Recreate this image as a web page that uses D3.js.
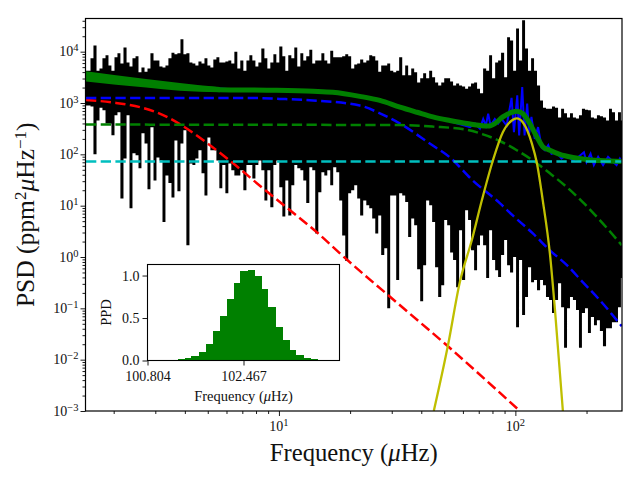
<!DOCTYPE html>
<html>
<head>
<meta charset="utf-8">
<script src="https://cdn.jsdelivr.net/npm/d3@7"></script>
<style>
html, body { margin: 0; padding: 0; background: #fff; }
text { font-family: "Liberation Serif", serif; fill: #111; }
</style>
</head>
<body>
<div id="chart"></div>
<script>
// all spectrum values are log10 of frequency (uHz) and log10 of PSD
var specFreq = [0.184,0.197,0.209,0.222,0.235,0.247,0.260,0.273,0.285,0.298,
0.311,0.323,0.336,0.349,0.362,0.374,0.387,0.400,0.412,0.425,
0.438,0.450,0.463,0.476,0.488,0.501,0.514,0.526,0.539,0.552,
0.564,0.577,0.590,0.602,0.615,0.628,0.640,0.653,0.666,0.679,
0.691,0.704,0.716,0.729,0.742,0.754,0.767,0.780,0.792,0.805,
0.818,0.830,0.843,0.856,0.869,0.881,0.894,0.907,0.919,0.932,
0.945,0.957,0.970,0.983,0.995,1.008,1.021,1.033,1.046,1.059,
1.071,1.084,1.097,1.109,1.122,1.135,1.147,1.160,1.173,1.186,
1.198,1.211,1.223,1.236,1.249,1.261,1.274,1.287,1.299,1.312,
1.325,1.337,1.350,1.363,1.376,1.388,1.401,1.414,1.426,1.439,
1.452,1.464,1.477,1.490,1.502,1.515,1.528,1.540,1.553,1.566,
1.578,1.591,1.604,1.616,1.629,1.642,1.654,1.667,1.680,1.693,
1.705,1.718,1.730,1.743,1.756,1.768,1.781,1.794,1.806,1.819,
1.832,1.844,1.857,1.870,1.883,1.895,1.908,1.921,1.933,1.946,
1.959,1.971,1.984,1.997,2.009,2.022,2.035,2.047,2.060,2.073,
2.085,2.098,2.111,2.123,2.136,2.149,2.161,2.174,2.187,2.200,
2.212,2.225,2.237,2.250,2.263,2.275,2.288,2.301,2.313,2.326,
2.339,2.351,2.364,2.377,2.390,2.402,2.415,2.428,2.440,2.453];

var specTop = [3.63,3.63,3.87,4.12,3.63,3.67,3.87,3.93,3.73,3.63,
3.89,3.97,3.77,4.08,3.79,3.71,3.87,3.91,3.60,3.69,
3.61,3.67,3.97,3.83,3.83,3.71,3.69,3.73,3.87,3.98,
3.95,3.97,4.24,3.95,3.97,3.79,3.77,3.73,3.81,3.77,
3.87,3.73,3.69,3.85,3.89,3.79,3.79,3.81,3.83,3.77,
4.00,3.67,3.83,3.63,3.83,3.93,3.83,3.71,3.79,4.06,
3.87,3.67,3.79,3.95,3.79,4.10,3.91,3.63,3.93,3.87,
4.08,3.71,3.97,3.83,3.91,4.04,3.77,3.83,3.83,3.97,
3.83,3.77,4.02,3.89,3.89,3.89,3.91,3.95,3.91,3.67,
3.75,3.77,3.85,3.79,3.83,3.93,3.91,3.83,3.61,3.73,
3.73,3.77,3.63,3.60,3.63,3.89,3.54,3.73,3.54,3.67,
3.60,3.40,3.48,3.58,3.48,3.63,3.50,3.40,3.34,3.40,
3.48,3.48,3.42,3.34,3.38,3.34,3.32,3.28,3.32,3.38,
3.40,3.28,3.19,3.67,3.63,3.93,3.48,3.79,3.83,3.98,
3.50,4.28,4.22,3.63,4.45,3.83,4.61,4.06,3.63,3.87,
3.63,3.34,3.05,2.91,2.89,2.89,2.93,2.91,2.72,2.89,
2.80,2.72,2.80,2.72,2.70,2.76,2.89,2.87,2.86,2.72,
2.70,2.76,2.74,2.72,2.66,2.89,2.82,2.66,2.82,2.66];

var specBottom = [2.95,2.95,2.93,2.00,2.66,2.91,2.86,2.60,2.60,2.37,
2.76,2.82,1.14,1.92,2.76,0.95,2.02,1.98,1.73,2.41,
2.21,1.32,2.53,1.49,1.94,1.88,0.68,1.59,1.44,1.16,
2.27,1.28,2.21,2.47,0.23,1.82,1.79,1.92,2.08,1.63,
1.20,2.33,2.08,2.08,1.88,1.34,1.79,1.24,1.82,1.69,
1.59,1.59,1.69,1.30,1.79,1.79,1.53,1.79,1.88,1.69,
1.10,1.69,0.97,1.79,1.88,1.36,0.79,1.49,0.81,1.40,
1.79,1.73,1.69,1.49,1.05,1.75,1.69,0.46,1.26,1.65,
1.59,1.69,1.40,1.75,1.65,1.10,0.42,-0.08,1.24,1.30,
1.40,1.14,0.81,1.10,1.01,0.95,0.75,0.46,0.81,0.04,
0.17,-1.00,1.20,1.20,-0.45,1.24,1.20,1.07,0.39,0.75,
0.62,-0.24,-0.86,-0.16,1.10,1.01,0.68,-0.20,-0.78,-0.55,
0.72,0.62,0.09,-0.06,-0.59,0.52,-0.45,0.91,0.72,0.13,
-0.26,0.23,0.42,0.23,-0.41,0.52,-0.06,-0.26,-0.39,0.04,
0.33,-0.16,-0.30,0.00,-1.37,-0.06,-1.13,-0.78,-0.20,-0.49,
-0.45,-0.65,-0.45,-0.55,-0.78,-0.84,-1.09,-0.84,-0.51,-0.98,
-1.77,-1.00,-0.78,-0.84,-1.03,-1.77,-1.09,-1.00,-1.48,-1.17,
-1.33,-1.23,-1.44,-1.74,-1.39,-1.39,-1.27,-1.27,-0.98,-0.41];

// smoothed spectrum
var smoothFreq = [0.184,0.400,0.800,1.000,1.100,1.200,1.350,1.500,1.650,1.808,1.829,1.850,1.864,1.875,1.885,1.895,1.913,1.927,1.942,1.963,1.984,1.994,2.008,2.016,2.029,2.039,2.050,2.058,2.068,2.082,2.096,2.111,2.125,2.139,2.153,2.174,2.195,2.216,2.244,2.266,2.290,2.301,2.318,2.332,2.350,2.371,2.392,2.414,2.428,2.442,2.452];
var smoothPower = [3.50,3.38,3.27,3.25,3.25,3.21,3.13,2.94,2.74,2.53,2.60,2.50,2.69,2.56,2.79,2.56,2.69,2.60,2.69,2.56,3.10,2.43,3.15,2.37,3.31,2.37,2.99,2.40,2.73,2.30,2.53,2.14,2.08,2.18,2.01,2.04,1.92,1.98,1.88,1.95,2.04,1.85,2.01,1.79,1.95,1.79,1.95,1.85,1.79,1.92,1.85];

// model curves
var totalFreq = [0.184,0.438,0.581,0.750,0.949,1.144,1.228,1.342,1.427,1.512,1.584,1.651,1.723,1.795,1.884,1.913,1.947,1.985,2.006,2.032,2.061,2.091,2.116,2.146,2.188,2.243,2.302,2.357,2.450];
var totalPower = [3.52,3.39,3.32,3.26,3.25,3.23,3.21,3.13,3.05,2.92,2.82,2.73,2.66,2.60,2.55,2.60,2.73,2.82,2.84,2.79,2.60,2.34,2.15,2.08,2.00,1.94,1.90,1.88,1.86];
var bandFreq = [0.184,0.438,0.581,0.750];
var bandHigh = [3.62,3.47,3.39,3.31];
var bandLow = [3.42,3.30,3.24,3.21];

var redFreq = [0.184,0.298,0.412,0.526,0.594,0.696,0.805,0.932,1.047,1.161,1.258,1.512,1.710,2.019];
var redPower = [3.06,3.01,2.92,2.73,2.55,2.22,1.83,1.34,0.91,0.48,0.07,-0.94,-1.72,-3.00];

var blueFreq = [0.184,0.865,1.004,1.144,1.342,1.427,1.512,1.638,1.723,1.820,1.934,1.989,2.074,2.146,2.218,2.285,2.357,2.450];
var bluePower = [3.10,3.10,3.08,3.05,2.95,2.80,2.60,2.21,1.94,1.49,1.05,0.81,0.46,0.13,-0.16,-0.49,-0.84,-1.35];

var darkFreq = [0.184,1.512,1.651,1.795,1.863,1.934,2.006,2.074,2.146,2.218,2.285,2.357,2.450];
var darkPower = [2.58,2.57,2.54,2.48,2.39,2.26,2.08,1.88,1.63,1.36,1.07,0.72,0.23];

var cyanFreq = [0.184,2.450];
var cyanPower = [1.86,1.86];

var yellowFreq = [1.655,1.715,1.765,1.816,1.858,1.905,1.947,1.985,2.006,2.032,2.070,2.091,2.116,2.146,2.167,2.201];
var yellowPower = [-3.00,-1.72,-0.49,0.33,1.10,1.88,2.43,2.66,2.70,2.62,2.21,1.83,1.10,0.07,-1.00,-3.00];

// inset histogram
var histEdges = [101.324,101.445,101.566,101.688,101.809,101.930,102.052,102.173,102.294,102.415,102.537,102.658,102.779,102.900,103.022,103.143,103.264,103.385,103.507,103.628,103.749];
var histValues = [0.012,0.03,0.05,0.10,0.20,0.345,0.52,0.72,0.91,1.05,1.07,1.00,0.84,0.63,0.39,0.24,0.12,0.06,0.03,0.015];
var histTicksX = [100.804,102.467];
var histTicksY = [0,0.5,1];

var yTickExp = [-3,-2,-1,0,1,2,3,4];
var xTickVals = [10,100];
var xMinor = [2,3,4,5,6,7,8,9,20,30,40,50,60,70,80,90,200];

var margin = { left: 85.5, right: 18, top: 18.5, bottom: 69 };
var width = 640 - margin.left - margin.right,
    height = 480 - margin.top - margin.bottom;

var svg = d3.select("#chart").append("svg")
    .attr("width", 640)
    .attr("height", 480)
    .style("display", "block");

var x = d3.scaleLog().domain([1.52, 282.5]).range([0, width]);
var y = d3.scaleLog().domain([0.001, 4.43e4]).range([height, 0]);

var g = svg.append("g")
    .attr("transform", "translate(" + margin.left + "," + margin.top + ")");

g.append("clipPath").attr("id", "plot")
    .append("rect").attr("width", width).attr("height", height);

var plot = g.append("g").attr("clip-path", "url(#plot)");

function px(v) { return x(Math.pow(10, v)); }
function py(v) { return y(Math.pow(10, v)); }

// black spectrum between its upper and lower edge
var spec = d3.area()
    .x(function(d, i) { return px(specFreq[i]); })
    .y0(function(d, i) { return py(specBottom[i]); })
    .y1(function(d, i) { return py(specTop[i]); })
    .curve(d3.curveStep);

plot.append("path")
    .attr("d", spec(specFreq))
    .attr("fill", "#000");

function curve(freq, power, color, lw, dashed, shape) {
    var line = d3.line()
        .x(function(d, i) { return px(freq[i]); })
        .y(function(d, i) { return py(power[i]); })
        .curve(shape || d3.curveMonotoneX);
    plot.append("path")
        .attr("d", line(freq))
        .attr("fill", "none")
        .attr("stroke", color)
        .attr("stroke-width", lw)
        .attr("stroke-dasharray", dashed ? "10.3,4.4" : null);
}

curve(smoothFreq, smoothPower, "#0000ff", 2, false, d3.curveLinear);

var band = d3.area()
    .x(function(d, i) { return px(bandFreq[i]); })
    .y0(function(d, i) { return py(bandLow[i]); })
    .y1(function(d, i) { return py(bandHigh[i]); })
    .curve(d3.curveMonotoneX);

plot.append("path")
    .attr("d", band(bandFreq))
    .attr("fill", "#008000");

curve(totalFreq, totalPower, "#008000", 5, false);
curve(redFreq, redPower, "#ff0000", 2.5, true);
curve(blueFreq, bluePower, "#0000ff", 2.5, true);
curve(darkFreq, darkPower, "#008000", 2.5, true);
curve(cyanFreq, cyanPower, "#00bfbf", 2.5, true);
curve(yellowFreq, yellowPower, "#bfbf00", 2.3, false);

// axes
g.append("rect")
    .attr("width", width).attr("height", height)
    .attr("fill", "none").attr("stroke", "#000").attr("stroke-width", 1.2);

var xMajor = d3.axisBottom(x).tickValues(xTickVals).tickSize(5).tickFormat("");
var xSmall = d3.axisBottom(x).tickValues(xMinor).tickSize(3).tickFormat("");
var yMajor = d3.axisLeft(y).tickValues(yTickExp.map(function(e) { return Math.pow(10, e); })).tickSize(5).tickFormat("");
var yValues = [];
yTickExp.forEach(function(e) {
    [2,3,4,5,6,7,8,9].forEach(function(m) {
        if (m * Math.pow(10, e) < 4.43e4) yValues.push(m * Math.pow(10, e));
    });
});
var ySmall = d3.axisLeft(y).tickValues(yValues).tickSize(3).tickFormat("");

[[xMajor, true], [xSmall, true], [yMajor, false], [ySmall, false]].forEach(function(a) {
    var ax = g.append("g").call(a[0]);
    if (a[1]) ax.attr("transform", "translate(0," + height + ")");
    ax.select(".domain").remove();
    ax.selectAll("line").attr("stroke", "#000").attr("stroke-width", 0.9);
});

function powerLabel(parent, exp, xp, yp, anchor, size) {
    var t = parent.append("text")
        .attr("x", xp).attr("y", yp)
        .attr("text-anchor", anchor)
        .style("font-size", size + "px");
    t.append("tspan").text("10");
    t.append("tspan").attr("dy", -5).style("font-size", (size - 3.5) + "px").text(exp);
}

yTickExp.forEach(function(e) {
    powerLabel(g, String(e).replace("-", "\u2212"), -7, y(Math.pow(10, e)) + 4.5, "end", 14);
});
xTickVals.forEach(function(v) {
    powerLabel(g, Math.round(Math.log10(v)), x(v), height + 20, "middle", 14);
});

var xLabel = g.append("text")
    .attr("x", width / 2).attr("y", height + 50)
    .attr("text-anchor", "middle")
    .style("font-size", "24.7px");
xLabel.append("tspan").text("Frequency (");
xLabel.append("tspan").style("font-style", "italic").text("\u03bc");
xLabel.append("tspan").text("Hz)");

var yLabel = g.append("text")
    .attr("transform", "translate(-52," + (height / 2) + ") rotate(-90)")
    .attr("text-anchor", "middle")
    .style("font-size", "25.5px");
yLabel.append("tspan").text("PSD (ppm");
yLabel.append("tspan").attr("dy", -8).style("font-size", "17px").text("2");
yLabel.append("tspan").attr("dy", 8).style("font-style", "italic").text("\u03bc");
yLabel.append("tspan").text("Hz");
yLabel.append("tspan").attr("dy", -8).style("font-size", "17px").text("\u22121");
yLabel.append("tspan").attr("dy", 8).text(")");

// inset
var insetW = 192, insetH = 96;
var inset = svg.append("g").attr("transform", "translate(147.5,264.5)");

var hx = d3.scaleLinear().domain([100.804, 104.13]).range([0, insetW]);
var hy = d3.scaleLinear().domain([0, 1.13]).range([insetH, 0]);

inset.append("rect")
    .attr("width", insetW).attr("height", insetH)
    .attr("fill", "#fff");

inset.selectAll(".bar")
    .data(histValues)
    .enter()
    .append("rect")
    .attr("class", "bar")
    .attr("fill", "#008000")
    .attr("shape-rendering", "crispEdges")
    .attr("x", function(d, i) { return hx(histEdges[i]); })
    .attr("width", function(d, i) { return hx(histEdges[i + 1]) - hx(histEdges[i]); })
    .attr("y", function(d) { return hy(d); })
    .attr("height", function(d) { return insetH - hy(d); });

inset.append("rect")
    .attr("width", insetW).attr("height", insetH)
    .attr("fill", "none").attr("stroke", "#000").attr("stroke-width", 1.1);

var hxAxis = inset.append("g")
    .attr("transform", "translate(0," + insetH + ")")
    .call(d3.axisBottom(hx).tickValues(histTicksX).tickSize(5).tickFormat(d3.format(".3f")));
var hyAxis = inset.append("g")
    .call(d3.axisLeft(hy).tickValues(histTicksY).tickSize(5).tickFormat(d3.format(".1f")));

[hxAxis, hyAxis].forEach(function(ax) {
    ax.select(".domain").remove();
    ax.selectAll("line").attr("stroke", "#000").attr("stroke-width", 0.9);
    ax.selectAll("text").style("font-size", "14px").style("font-family", "'Liberation Serif', serif").attr("fill", "#111");
});
hxAxis.selectAll("text").attr("dy", "0.9em");

var hLabel = inset.append("text")
    .attr("x", insetW / 2).attr("y", insetH + 40)
    .attr("text-anchor", "middle")
    .style("font-size", "14.5px");
hLabel.append("tspan").text("Frequency (");
hLabel.append("tspan").style("font-style", "italic").text("\u03bc");
hLabel.append("tspan").text("Hz)");

inset.append("text")
    .attr("transform", "translate(-37," + (insetH / 2) + ") rotate(-90)")
    .attr("text-anchor", "middle")
    .style("font-size", "14.5px")
    .text("PPD");
</script>
</body>
</html>
